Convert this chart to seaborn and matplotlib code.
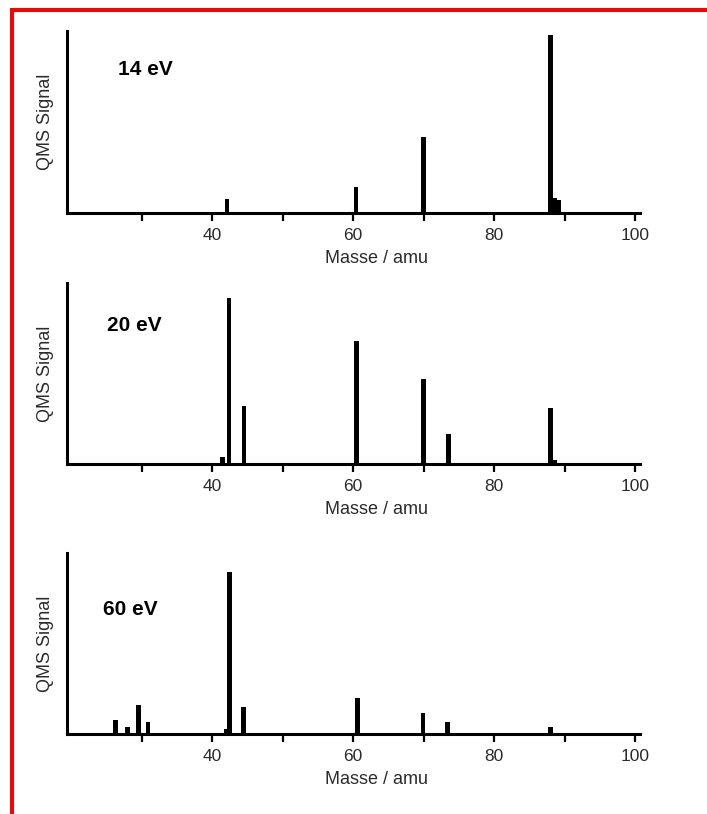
import numpy as np
import pandas as pd
import matplotlib
matplotlib.use("Agg")
import matplotlib.pyplot as plt
from matplotlib.patches import Rectangle
import seaborn as sns

# ---- data ----
energies = ["14 eV", "20 eV", "60 eV"]

mass_14 = [42.1, 60.4, 70.0, 88.0, 88.6, 89.2]
signal_14 = [0.079, 0.143, 0.418, 0.978, 0.08, 0.07]

mass_20 = [41.5, 42.4, 44.5, 60.5, 70.0, 73.5, 88.0, 88.6]
signal_20 = [0.04, 0.917, 0.32, 0.68, 0.47, 0.166, 0.31, 0.02]

mass_60 = [26.3, 28.0, 29.5, 30.9, 42.0, 42.5, 44.4, 60.6, 69.9, 73.4, 88.0]
signal_60 = [0.077, 0.04, 0.16, 0.066, 0.03, 0.895, 0.15, 0.20, 0.116, 0.064, 0.036]

xticks = [30, 40, 50, 60, 70, 80, 90, 100]
xticklabels = ["", "40", "", "60", "", "80", "", "100"]
xlabel = "Masse / amu"
ylabel = "QMS Signal"

# ---- style ----
sns.set_style("white")
plt.rcParams["font.family"] = ["Liberation Sans", "DejaVu Sans"]
text_color = "#2b2b2b"

W, H = 707, 814
fig = plt.figure(figsize=(W / 100, H / 100), dpi=100)

# axes placement in pixels: (left, right, top, bottom)
ax_px = [(67, 640, 31, 213), (67, 640, 283, 464), (67, 640, 553, 734)]
label_pos = [(0.089, 0.786), (0.070, 0.764), (0.062, 0.688)]
panels = [(mass_14, signal_14), (mass_20, signal_20), (mass_60, signal_60)]

bar_units = 0.68
for i, ((m, s), (l, r, t, b)) in enumerate(zip(panels, ax_px)):
    ax = fig.add_axes([l / W, 1 - b / H, (r - l) / W, (b - t) / H])
    df = pd.DataFrame({"mass": m, "signal": s})
    min_diff = np.min(np.diff(np.unique(df["mass"])))
    sns.barplot(data=df, x="mass", y="signal", native_scale=True,
                color="black", saturation=1, width=bar_units / min_diff,
                errorbar=None, linewidth=0, ax=ax)
    ax.set_xlim(19.4, 100.7)
    ax.set_ylim(0, 1)
    for side in ["top", "right"]:
        ax.spines[side].set_visible(False)
    for side in ["left", "bottom"]:
        ax.spines[side].set_linewidth(2.2)
        ax.spines[side].set_color("black")
    ax.set_yticks([])
    ax.set_xticks(xticks)
    ax.set_xticklabels(xticklabels)
    ax.tick_params(axis="x", direction="out", length=5.5, width=1.6,
                   color="black", pad=5, labelsize=12.5, labelcolor=text_color,
                   bottom=True)
    ax.set_xlabel(xlabel, fontsize=13, color=text_color)
    ax.xaxis.set_label_coords(0.541, -0.205)
    ax.xaxis.label.set_va("top")
    ax.set_ylabel(ylabel, fontsize=13, color=text_color, labelpad=9)
    ax.text(label_pos[i][0], label_pos[i][1], energies[i], transform=ax.transAxes,
            fontsize=15, fontweight="bold", color="black", ha="left", va="center")

# red frame (left and top edges)
fig.patches.append(Rectangle((10 / W, 0), 4 / W, (H - 8) / H, transform=fig.transFigure,
                             facecolor="#ff0000", edgecolor="none", figure=fig))
fig.patches.append(Rectangle((10 / W, (H - 12) / H), (W - 10) / W, 4 / H,
                             transform=fig.transFigure, facecolor="#ff0000",
                             edgecolor="none", figure=fig))

fig.savefig("out.png", dpi=100, facecolor="white")
